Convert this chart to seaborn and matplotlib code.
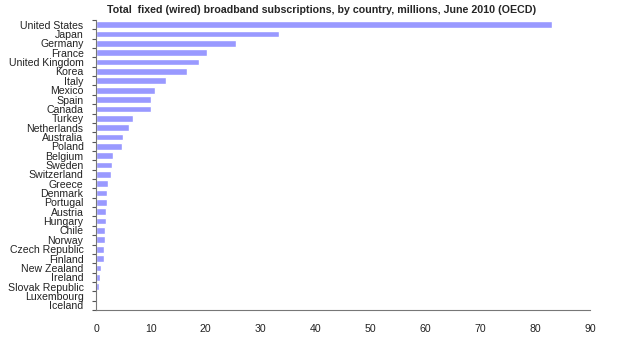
import matplotlib
matplotlib.use("Agg")
import matplotlib.pyplot as plt
import seaborn as sns
import pandas as pd
import numpy as np

countries = [
    "United States", "Japan", "Germany", "France", "United Kingdom", "Korea",
    "Italy", "Mexico", "Spain", "Canada", "Turkey", "Netherlands", "Australia",
    "Poland", "Belgium", "Sweden", "Switzerland", "Greece", "Denmark",
    "Portugal", "Austria", "Hungary", "Chile", "Norway", "Czech Republic",
    "Finland", "New Zealand", "Ireland", "Slovak Republic", "Luxembourg",
    "Iceland",
]
subscriptions = [
    83.1, 33.4, 25.5, 20.2, 18.8, 16.6,
    12.7, 10.7, 10.1, 10.0, 6.7, 6.1, 5.0,
    4.8, 3.1, 2.9, 2.8, 2.1, 2.0,
    2.0, 1.8, 1.8, 1.6, 1.6, 1.4,
    1.4, 1.0, 0.7, 0.55, 0.15,
    0.1,
]
x_ticks = [0, 10, 20, 30, 40, 50, 60, 70, 80, 90]

df = pd.DataFrame({"country": countries, "subs": subscriptions})

sns.set_style("white")
plt.rcParams["font.family"] = ["Liberation Sans", "DejaVu Sans"]

fig = plt.figure(figsize=(6.24, 3.42), dpi=100)
ax = fig.add_axes([96 / 624, 1 - 310 / 342, (590 - 96) / 624, (310 - 20) / 342])

sns.barplot(data=df, x="subs", y="country", orient="h", color="#9999ff",
            saturation=1, width=0.72, ax=ax)

n = len(countries)
ax.set_xlim(0, 90)
ax.set_ylim(n - 0.5, -0.5)
ax.set_xticks(x_ticks)
ax.set_xlabel("")
ax.set_ylabel("")
ax.set_yticks(range(n))
ax.set_yticklabels(countries)
# category-boundary tick marks on the value axis
ax.set_yticks(np.arange(n + 1) - 0.5, minor=True)
ax.tick_params(axis="y", which="major", length=0, pad=9, labelsize=7.6,
               labelcolor="#222222")
ax.tick_params(axis="y", which="minor", length=3, width=0.8,
               color="#555555", direction="out", left=True)
ax.tick_params(axis="x", which="major", length=3, width=0.8, pad=7,
               labelsize=7.6, labelcolor="#222222", color="#555555",
               direction="out")
sns.despine(ax=ax, top=True, right=True)
for side in ("left", "bottom"):
    ax.spines[side].set_color("#777777")
    ax.spines[side].set_linewidth(0.8)

fig.text(322 / 624, 1 - 10 / 342,
         "Total  fixed (wired) broadband subscriptions, by country, millions, June 2010 (OECD)",
         ha="center", va="center", fontsize=7.7, fontweight="bold")

fig.savefig("out.png", dpi=100)
